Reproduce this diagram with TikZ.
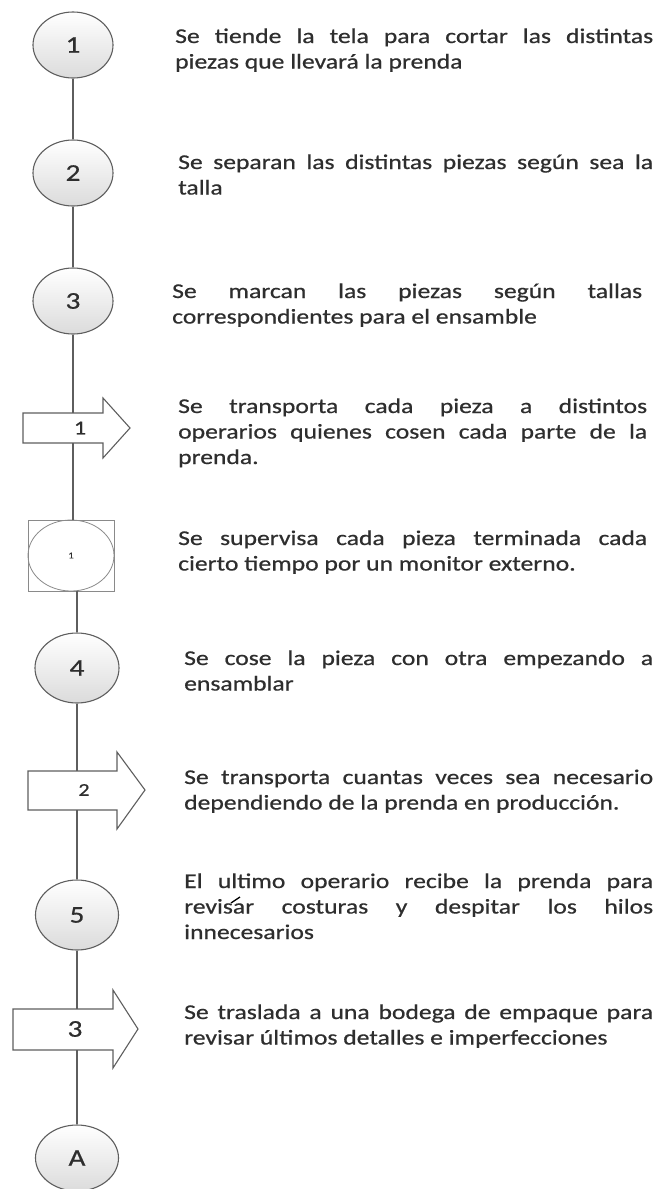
\documentclass[tikz,border=0pt]{standalone}
\usepackage{fontspec}
\setmainfont{Carlito}[FakeStretch=1.22, FakeBold=0.6]
\usetikzlibrary{shapes.geometric}
\definecolor{linegray}{HTML}{5E5E5E}
\definecolor{boxgray}{HTML}{8A8A8A}
\definecolor{txtgray}{HTML}{2E2E2E}
\hbadness=10000 \tolerance=10000 \hyphenpenalty=10000 \exhyphenpenalty=10000
\tikzset{
  conn/.style={draw=linegray, line width=1.2pt},
  opcirc/.style={ellipse, draw=linegray, line width=1.1pt, top color=white, bottom color=black!14,
    minimum width=80pt, minimum height=66pt, inner sep=0pt, text=txtgray, font=\fontsize{24}{24}\selectfont},
  arrowpath/.style={draw=linegray, line width=1.1pt, fill=white, line join=miter},
  shaft/.style={inner sep=0pt, draw=none},
  lbl/.style={inner sep=0pt, text=txtgray},
  desc/.style={anchor=base west, inner sep=0pt, align=justify, text=txtgray, font=\fontsize{21}{25.5}\selectfont},
}
\begin{document}
\begin{tikzpicture}[x=1pt,y=-1pt]
\useasboundingbox (0,0) rectangle (659,1189);
\fill[white] (0,0) rectangle (659,1189);

% operation circles
\node[opcirc] (c1) at (73,45) {1};
\node[opcirc] (c2) at (73,173) {2};
\node[opcirc] (c3) at (73,301) {3};

% transport arrow 1
\draw[arrowpath] (23,413) -- (103,413) -- (103,398) -- (130,428) -- (103,458) -- (103,443) -- (23,443) -- cycle;
\node[shaft, minimum width=80pt, minimum height=30pt] (a1) at (63,428) {};
\node[lbl, font=\fontsize{20}{20}\selectfont] (a1l) at (80,428) {1};

% inspection (square + ellipse)
\node[draw=boxgray, line width=0.8pt, fill=white, minimum width=86pt, minimum height=71pt, inner sep=0pt] (s1) at (71,555.5) {};
\node[ellipse, draw=boxgray, line width=0.8pt, minimum width=86pt, minimum height=71pt, inner sep=0pt,
  text=txtgray, font=\fontsize{9}{9}\selectfont] (s1e) at (s1.center) {1};

\node[opcirc, minimum width=84pt, minimum height=70pt] (c4) at (77,668) {4};

% transport arrow 2
\draw[arrowpath] (28,771) -- (117,771) -- (117,752) -- (145,790) -- (117,829) -- (117,810) -- (28,810) -- cycle;
\node[shaft, minimum width=89pt, minimum height=39pt] (a2) at (72.5,790.5) {};
\node[lbl, font=\fontsize{18}{18}\selectfont] (a2l) at (84,790) {2};

\node[opcirc, minimum width=83pt, minimum height=70pt] (c5) at (77,915) {5};

% transport arrow 3
\draw[arrowpath] (13,1009) -- (113,1009) -- (113,990) -- (138,1029) -- (113,1068) -- (113,1050) -- (13,1050) -- cycle;
\node[shaft, minimum width=100pt, minimum height=41pt] (a3) at (63,1029.5) {};
\node[lbl, font=\fontsize{24}{24}\selectfont] (a3l) at (75,1029) {3};

\node[opcirc, minimum width=83pt, minimum height=66pt] (cA) at (77,1158) {A};

% connectors
\draw[conn] (c1) -- (c2);
\draw[conn] (c2) -- (c3);
\draw[conn] (c3.south) -- (c3.south |- a1.north);
\draw[conn] (c3.south |- a1.south) -- (c3.south |- s1.north);
\draw[conn] (c4.north |- s1.south) -- (c4.north);
\draw[conn] (c4.south) -- (c4.south |- a2.north);
\draw[conn] (c4.south |- a2.south) -- (c5.north);
\draw[conn] (c5.south) -- (c5.south |- a3.north);
\draw[conn] (c5.south |- a3.south) -- (cA.north);

% descriptions
\node[desc, text width=478pt] (t1) at (175,43) {Se tiende la tela para cortar las distintas\linebreak piezas que llevará la prenda};
\node[desc, text width=475pt] (t2) at (178,169) {Se separan las distintas piezas según sea la\linebreak talla};
\node[desc, text width=470pt] (t3) at (172,298) {Se marcan las piezas según tallas\linebreak correspondientes para el ensamble};
\node[desc, text width=469pt] (t4) at (178,413) {Se transporta cada pieza a distintos\linebreak operarios quienes cosen cada parte de la\linebreak prenda.};
\node[desc, text width=469pt] (t5) at (178,545) {Se supervisa cada pieza terminada cada\linebreak cierto tiempo por un monitor externo.};
\node[desc, text width=469pt] (t6) at (184,665) {Se cose la pieza con otra empezando a\linebreak ensamblar};
\node[desc, text width=469pt] (t7) at (184,784) {Se transporta cuantas veces sea necesario\linebreak dependiendo de la prenda en producción.};
\node[desc, text width=469pt] (t8) at (184,888) {El ultimo operario recibe la prenda para\linebreak revisar costuras y despitar los hilos\linebreak innecesarios};
\node[desc, text width=469pt] (t9) at (184,1019) {Se traslada a una bodega de empaque para\linebreak revisar últimos detalles e imperfecciones};

% stray stroke over "revisar"
\draw[black, line width=1.3pt] (231,903) -- (240,897);
\end{tikzpicture}
\end{document}
